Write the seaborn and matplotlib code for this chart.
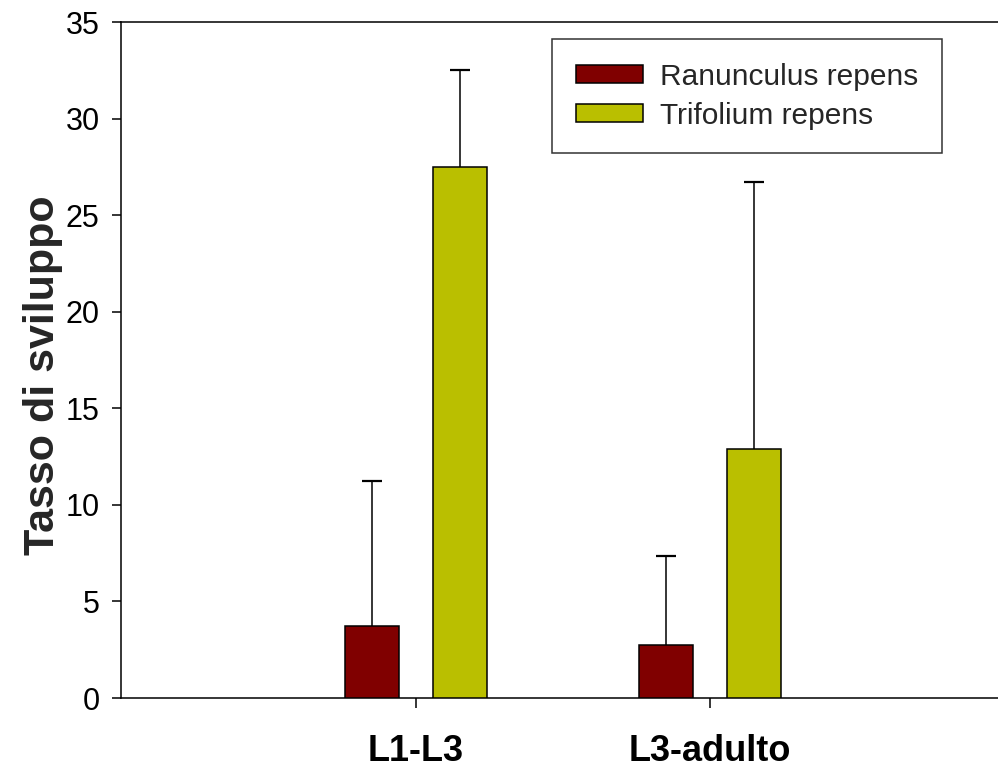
import matplotlib
matplotlib.use("Agg")
import matplotlib.pyplot as plt
import pandas as pd
import seaborn as sns

# Development rate per stage and host plant (mean and standard deviation)
stages = ["L1-L3", "L3-adulto"]
species = ["Ranunculus repens", "Trifolium repens"]
ranunculus_mean = [3.75, 2.75]
ranunculus_sd = [7.5, 4.6]
trifolium_mean = [27.5, 12.9]
trifolium_sd = [5.0, 13.8]
palette = ["#800000", "#BABF00"]
y_ticks = [0, 5, 10, 15, 20, 25, 30, 35]

df = pd.DataFrame({
    "stage": stages * 2,
    "species": [species[0]] * len(stages) + [species[1]] * len(stages),
    "rate": ranunculus_mean + trifolium_mean,
    "sd": ranunculus_sd + trifolium_sd,
})

sns.set_style("ticks")
plt.rcParams["font.family"] = ["Liberation Sans", "DejaVu Sans"]

fig = plt.figure(figsize=(9.98, 7.71), dpi=100)
ax = fig.add_axes([121 / 998, (771 - 698) / 771, 877 / 998, 676 / 771])

sns.barplot(data=df, x="stage", y="rate", hue="species", order=stages,
            hue_order=species, palette=palette, saturation=1,
            width=0.6, gap=0.387, errorbar=None,
            edgecolor="black", linewidth=1.1, ax=ax, zorder=3)

# One-sided (upper) error bars on each bar
for sp, container in zip(species, ax.containers):
    sub = df[df["species"] == sp].set_index("stage").loc[stages]
    xs = [p.get_x() + p.get_width() / 2 for p in container.patches]
    ys = sub["rate"].to_numpy()
    errs = sub["sd"].to_numpy()
    eb = ax.errorbar(xs, ys, yerr=[[0] * len(errs), errs], fmt="none",
                     ecolor="black", elinewidth=1.1, capsize=7.2,
                     capthick=1.6, zorder=2)
    eb[1][0].set_visible(False)

ax.set_xlim(-1.003, 1.98)
ax.set_ylim(0, 35)
ax.set_yticks(y_ticks)
ax.set_xlabel("")
ax.set_ylabel("Tasso di sviluppo", fontsize=31, fontweight="bold")
ax.yaxis.set_label_coords(-0.066, 0.478)

for side in ["left", "bottom", "top"]:
    ax.spines[side].set_linewidth(1.1)
    ax.spines[side].set_color("black")
ax.spines["right"].set_visible(False)

ax.tick_params(axis="y", length=6.5, width=1.1, labelsize=22, pad=9,
               color="black", labelcolor="black")
ax.tick_params(axis="x", length=7, width=1.1, labelsize=26, pad=19,
               color="black", labelcolor="black")
for lbl in ax.get_xticklabels():
    lbl.set_fontweight("bold")

handles, labels = ax.get_legend_handles_labels()
leg = ax.legend(handles, labels, loc="upper right",
                bbox_to_anchor=(0.936, 0.975), borderaxespad=0,
                fontsize=21.5, frameon=True, fancybox=False,
                edgecolor="black", handlelength=2.25, handleheight=0.55,
                handletextpad=0.55, labelspacing=0.36, borderpad=0.8)
leg.get_frame().set_linewidth(1.1)
for h in leg.legend_handles:
    h.set_edgecolor("black")
    h.set_linewidth(1.1)

fig.savefig("out.png", dpi=100)
